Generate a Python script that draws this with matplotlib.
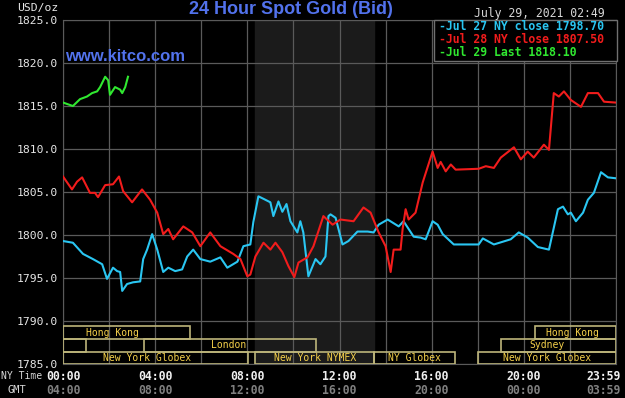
import matplotlib
matplotlib.use('Agg')
import matplotlib.pyplot as plt
from matplotlib.patches import Rectangle
from matplotlib.transforms import blended_transform_factory

# hours since 00:00 NY time, price in USD/oz
jul27_h = [0.00, 0.43, 0.87, 1.30, 1.70, 1.91, 2.17, 2.35, 2.48, 2.57, 2.78, 3.04, 3.35, 3.48,
           3.65, 3.87, 4.09, 4.35, 4.57, 4.87, 5.17, 5.39, 5.65, 5.96, 6.39, 6.83, 7.13, 7.57,
           7.83, 8.13, 8.26, 8.48, 8.78, 9.00, 9.13, 9.35, 9.52, 9.70, 9.87, 10.17, 10.30, 10.43,
           10.65, 10.96, 11.17, 11.39, 11.52, 11.61, 11.83, 12.13, 12.39, 12.78, 13.22, 13.48,
           13.70, 14.09, 14.57, 14.78, 15.22, 15.52, 15.74, 16.04, 16.26, 16.48, 16.96, 18.04,
           18.22, 18.70, 19.43, 19.78, 20.17, 20.61, 21.09, 21.48, 21.70, 21.91, 22.04, 22.26,
           22.57, 22.78, 23.04, 23.35, 23.65, 23.98]
jul27_p = [1799.3, 1799.1, 1797.8, 1797.2, 1796.6, 1794.9, 1796.2, 1795.8, 1795.7, 1793.5, 1794.3,
           1794.5, 1794.6, 1797.2, 1798.3, 1800.1, 1798.3, 1795.7, 1796.2, 1795.8, 1796.0, 1797.5,
           1798.3, 1797.2, 1796.9, 1797.4, 1796.2, 1796.9, 1798.7, 1798.9, 1801.5, 1804.5, 1804.1,
           1803.8, 1802.2, 1803.9, 1802.7, 1803.6, 1801.6, 1800.3, 1801.6, 1800.3, 1795.2, 1797.2,
           1796.6, 1797.5, 1802.2, 1802.4, 1802.0, 1798.9, 1799.3, 1800.4, 1800.4, 1800.3, 1801.2,
           1801.8, 1801.0, 1801.6, 1799.8, 1799.7, 1799.5, 1801.6, 1801.2, 1800.1, 1798.9, 1798.9,
           1799.6, 1798.9, 1799.5, 1800.3, 1799.7, 1798.6, 1798.3, 1803.0, 1803.3, 1802.4, 1802.6,
           1801.6, 1802.6, 1804.1, 1804.9, 1807.3, 1806.7, 1806.6]

jul28_h = [0.00, 0.39, 0.61, 0.83, 1.17, 1.39, 1.52, 1.83, 2.17, 2.43, 2.61, 3.00, 3.43, 3.78,
           4.09, 4.35, 4.57, 4.78, 5.22, 5.61, 5.96, 6.39, 6.83, 7.39, 7.70, 8.00, 8.13, 8.35,
           8.70, 9.00, 9.22, 9.52, 9.78, 10.04, 10.22, 10.61, 10.87, 11.30, 11.70, 12.04, 12.61,
           13.04, 13.35, 13.70, 14.00, 14.22, 14.35, 14.65, 14.74, 14.87, 15.00, 15.30, 15.61,
           16.04, 16.26, 16.39, 16.61, 16.83, 17.04, 18.04, 18.35, 18.70, 19.00, 19.57, 19.87,
           20.17, 20.43, 20.87, 21.09, 21.30, 21.52, 21.74, 22.04, 22.48, 22.78, 23.22, 23.48, 23.98]
jul28_p = [1806.8, 1805.3, 1806.2, 1806.7, 1804.9, 1804.9, 1804.4, 1805.8, 1805.9, 1806.8, 1805.1,
           1803.8, 1805.3, 1804.1, 1802.6, 1800.1, 1800.7, 1799.5, 1801.0, 1800.3, 1798.7, 1800.3,
           1798.7, 1797.8, 1797.2, 1795.2, 1795.4, 1797.5, 1799.1, 1798.3, 1799.1, 1798.0, 1796.4,
           1795.1, 1796.8, 1797.4, 1798.7, 1802.2, 1801.2, 1801.8, 1801.6, 1803.2, 1802.6, 1800.3,
           1798.7, 1795.7, 1798.3, 1798.3, 1800.7, 1803.0, 1801.8, 1802.6, 1806.1, 1809.7, 1807.8,
           1808.5, 1807.4, 1808.2, 1807.6, 1807.7, 1808.0, 1807.8, 1809.0, 1810.2, 1808.8, 1809.7,
           1809.0, 1810.5, 1809.9, 1816.5, 1816.1, 1816.7, 1815.7, 1814.9, 1816.5, 1816.5, 1815.5,
           1815.4]

jul29_h = [0.00, 0.43, 0.74, 1.04, 1.26, 1.48, 1.61, 1.83, 1.96, 2.04, 2.26, 2.48, 2.57, 2.70, 2.82]
jul29_p = [1815.4, 1815.0, 1815.8, 1816.1, 1816.5, 1816.7, 1817.2, 1818.4, 1818.0, 1816.3, 1817.2,
           1816.9, 1816.5, 1817.2, 1818.4]

legend_labels = ['-Jul 27 NY close 1798.70', '-Jul 28 NY close 1807.50', '-Jul 29 Last 1818.10']

# trading sessions: name, start hour, end hour, row (0 = top), label centre hour
sess_names = ['Hong Kong', 'Hong Kong', '', 'London', 'Sydney',
              'New York Globex', 'New York NYMEX', 'NY Globex', 'New York Globex']
sess_start = [0.0, 20.5, 0.0, 3.5, 19.0, 0.0, 8.33, 13.5, 18.0]
sess_end = [5.5, 24.0, 1.0, 11.0, 24.0, 8.05, 13.5, 17.0, 24.0]
sess_row = [0, 0, 1, 1, 1, 2, 2, 2, 2]
sess_lab = [2.15, 22.1, 0.5, 7.2, 21.0, 3.65, 10.96, 15.24, 21.02]

ny_ticks = [0, 4, 8, 12, 16, 20, 23.983]
ny_labels = ['00:00', '04:00', '08:00', '12:00', '16:00', '20:00', '23:59']
gmt_labels = ['04:00', '08:00', '12:00', '16:00', '20:00', '00:00', '03:59']

BLUE = '#5272ec'
MONO = 'DejaVu Sans Mono'

fig = plt.figure(figsize=(6.25, 3.98), dpi=100, facecolor='black')
ax = fig.add_axes([63 / 625.0, 1 - 364 / 398.0, 553 / 625.0, 344 / 398.0])
ax.set_facecolor('black')
ax.set_xlim(0, 24)
ax.set_ylim(1785, 1825)

# NYMEX pit hours shading
ax.axvspan(8.33, 13.5, color='#1b1b1b', zorder=0)

ax.set_xticks(range(0, 25, 2))
ax.set_yticks(range(1785, 1826, 5))
ax.grid(True, color='#5a5a5a', lw=0.9, zorder=1)
ax.tick_params(axis='x', length=0, labelbottom=False)
ax.tick_params(axis='y', length=0, pad=4, labelcolor='#e6e6e6', labelsize=8.2)
ax.set_yticklabels(['%.1f' % v for v in range(1785, 1826, 5)], family=MONO)
for s in ax.spines.values():
    s.set_color('#5a5a5a')

ax.plot(jul27_h, jul27_p, color='#2ac6f2', lw=1.5, zorder=3)
ax.plot(jul28_h, jul28_p, color='#f21c1c', lw=1.5, zorder=3)
ax.plot(jul29_h, jul29_p, color='#30e830', lw=1.5, zorder=4)

row_edges = [1789.4, 1787.9, 1786.45, 1785.0]
for name, a, b, r, lx in zip(sess_names, sess_start, sess_end, sess_row, sess_lab):
    y0 = row_edges[r + 1]
    y1 = row_edges[r]
    ax.add_patch(Rectangle((a, y0), b - a, y1 - y0, fill=False, ec='#bdb57a', lw=1.2, zorder=5))
    if name:
        ax.text(lx, (y0 + y1) / 2, name, color='#f5d04a', family=MONO, fontsize=7,
                ha='center', va='center', zorder=6)

# legend box
ax.add_patch(Rectangle((16.08, 1820.25), 7.95, 4.75, fc='black', ec='#707070', lw=1.0, zorder=6,
                       clip_on=False))
leg_colors = ['#2ac6f2', '#f21c1c', '#30e830']
for i, (t, c) in enumerate(zip(legend_labels, leg_colors)):
    fig.text(439 / 625.0, 1 - (27 + 12.5 * i) / 398.0, t, color=c, family=MONO,
             fontsize=8.3, fontweight='bold', va='center', ha='left', zorder=7)

fig.text(605 / 625.0, 1 - 13 / 398.0, 'July 29, 2021 02:49', color='#d8d8d8', family=MONO,
         fontsize=8.3, ha='right', va='center')
fig.text(58 / 625.0, 1 - 8 / 398.0, 'USD/oz', color='#e6e6e6', family=MONO,
         fontsize=8.2, ha='right', va='center')
fig.text(291 / 625.0, 1 - 10 / 398.0, '24 Hour Spot Gold (Bid)', color=BLUE,
         family='Liberation Sans', fontsize=13, fontweight='bold', ha='center', va='center')
ax.text(0.1, 1820.8, 'www.kitco.com', color=BLUE, family='Liberation Sans', fontsize=12,
        fontweight='bold', ha='left', va='center', zorder=6)

tr = blended_transform_factory(ax.transData, fig.transFigure)
for x, a, b in zip(ny_ticks[:-1], ny_labels[:-1], gmt_labels[:-1]):
    ax.text(x, 1 - 376 / 398.0, a, transform=tr, color='#f0f0f0', family=MONO, fontsize=8.3,
            fontweight='bold', ha='center', va='center', clip_on=False)
    ax.text(x, 1 - 390 / 398.0, b, transform=tr, color='#808080', family=MONO, fontsize=8.3,
            fontweight='bold', ha='center', va='center', clip_on=False)
# last label sits flush with the right edge
fig.text(621 / 625.0, 1 - 376 / 398.0, ny_labels[-1], color='#f0f0f0', family=MONO,
         fontsize=8.3, fontweight='bold', ha='right', va='center')
fig.text(621 / 625.0, 1 - 390 / 398.0, gmt_labels[-1], color='#808080', family=MONO,
         fontsize=8.3, fontweight='bold', ha='right', va='center')
fig.text(1 / 625.0, 1 - 376 / 398.0, 'NY Time', color='#d8d8d8', family=MONO, fontsize=7,
         ha='left', va='center')
fig.text(17 / 625.0, 1 - 390 / 398.0, 'GMT', color='#d8d8d8', family=MONO, fontsize=7.5,
         ha='center', va='center')

fig.savefig('out.png', dpi=100, facecolor='black')
